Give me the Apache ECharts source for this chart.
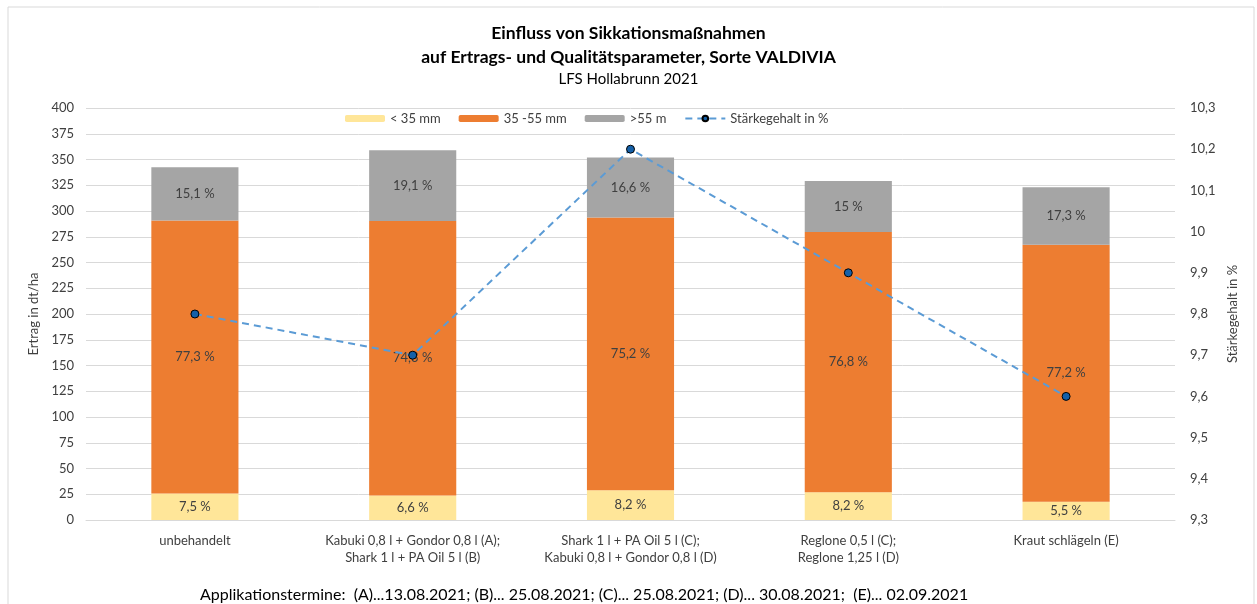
<!DOCTYPE html>
<html>
<head>
<meta charset="utf-8">
<script src="https://cdn.jsdelivr.net/npm/echarts@6/dist/echarts.min.js"></script>
<style>
  html, body { margin: 0; padding: 0; background: #fff; }
  #chart { width: 1257px; height: 604px; }
</style>
</head>
<body>
<div id="chart"></div>
<script>
// categories (treatments)
const categories = [
  'unbehandelt',
  'Kabuki 0,8 l + Gondor 0,8 l (A);\nShark 1 l + PA Oil 5 l (B)',
  'Shark 1 l + PA Oil 5 l (C);\nKabuki 0,8 l + Gondor 0,8 l (D)',
  'Reglone 0,5 l (C);\nReglone 1,25 l (D)',
  'Kraut schlägeln (E)'
]

// yield in dt/ha per size class
const small = [25.7, 23.7, 28.9, 27.0, 17.8]
const medium = [265.0, 266.7, 264.7, 252.7, 249.4]
const large = [51.8, 68.6, 58.4, 49.4, 55.9]

// share labels in %
const smallPct = ['7,5 %', '6,6 %', '8,2 %', '8,2 %', '5,5 %']
const mediumPct = ['77,3 %', '74,3 %', '75,2 %', '76,8 %', '77,2 %']
const largePct = ['15,1 %', '19,1 %', '16,6 %', '15 %', '17,3 %']

// starch content in %
const starch = [9.8, 9.7, 10.2, 9.9, 9.6]

const font = 'Lato, "Open Sans", sans-serif'
const txt = '#404040'

const chart = echarts.init(document.getElementById('chart'))

const barLabel = (labels) => ({
  show: true,
  position: 'inside',
  color: txt,
  fontSize: 13,
  fontFamily: font,
  formatter: (p) => labels[p.dataIndex],
})

chart.setOption({
  textStyle: { fontFamily: font },
  animation: false,
  title: [
    {
      text: 'Einfluss von Sikkationsmaßnahmen\nauf Ertrags- und Qualitätsparameter, Sorte VALDIVIA',
      left: 'center',
      top: 16,
      textStyle: { fontSize: 17.5, fontWeight: 'bold', color: '#000', lineHeight: 24, fontFamily: font },
    },
    {
      text: 'LFS Hollabrunn 2021',
      left: 'center',
      top: 67,
      textStyle: { fontSize: 15, fontWeight: 'normal', color: '#000', fontFamily: font },
    },
  ],
  legend: {
    top: 107,
    left: 340,
    itemWidth: 40,
    itemHeight: 7,
    itemGap: 18,
    textStyle: { color: txt, fontSize: 13, fontFamily: font },
    data: ['< 35 mm', '35 -55 mm', '>55 m', 'Stärkegehalt in %'],
  },
  grid: { left: 86, right: 82, top: 108, bottom: 84 },
  xAxis: {
    type: 'category',
    data: categories,
    axisTick: { show: false },
    axisLine: { lineStyle: { color: '#d9d9d9' } },
    axisLabel: { color: txt, fontSize: 13, interval: 0, lineHeight: 17, margin: 12, fontFamily: font },
  },
  yAxis: [
    {
      type: 'value',
      min: 0,
      max: 400,
      interval: 25,
      name: 'Ertrag in dt/ha',
      nameLocation: 'middle',
      nameGap: 44,
      nameTextStyle: { color: txt, fontSize: 13, fontFamily: font },
      axisLabel: { color: txt, fontSize: 13, margin: 12, fontFamily: font },
      splitLine: { lineStyle: { color: '#d9d9d9', width: 1 } },
    },
    {
      type: 'value',
      min: 9.3,
      max: 10.3,
      interval: 0.1,
      name: 'Stärkegehalt in %',
      nameLocation: 'middle',
      nameGap: 48,
      nameTextStyle: { color: txt, fontSize: 13, fontFamily: font },
      axisLabel: {
        color: txt,
        fontSize: 13,
        margin: 15,
        fontFamily: font,
        formatter: (v) => String(Math.round(v * 10) / 10).replace('.', ','),
      },
      splitLine: { show: false },
    },
  ],
  series: [
    {
      name: '< 35 mm',
      type: 'bar',
      stack: 'yield',
      data: small,
      barWidth: '40%',
      itemStyle: { color: '#FFE699' },
      label: barLabel(smallPct),
    },
    {
      name: '35 -55 mm',
      type: 'bar',
      stack: 'yield',
      data: medium,
      itemStyle: { color: '#ED7D31' },
      label: barLabel(mediumPct),
    },
    {
      name: '>55 m',
      type: 'bar',
      stack: 'yield',
      data: large,
      itemStyle: { color: '#A5A5A5' },
      label: barLabel(largePct),
    },
    {
      name: 'Stärkegehalt in %',
      type: 'line',
      yAxisIndex: 1,
      data: starch,
      z: 5,
      symbol: 'circle',
      symbolSize: 8,
      lineStyle: { color: '#5B9BD5', width: 2, type: [7, 5] },
      itemStyle: { color: '#1560A8', borderColor: '#000', borderWidth: 1 },
    },
  ],
  graphic: [
    {
      type: 'rect',
      shape: { x: 8, y: 7, width: 1246, height: 610 },
      style: { fill: 'none', stroke: '#d9d9d9', lineWidth: 1 },
      silent: true,
    },
    {
      type: 'text',
      left: 200,
      top: 587,
      style: {
        text: 'Applikationstermine:  (A)...13.08.2021; (B)... 25.08.2021; (C)... 25.08.2021; (D)... 30.08.2021;  (E)... 02.09.2021',
        fontSize: 16,
        fill: '#000',
        fontFamily: font,
      },
    },
  ],
})
</script>
</body>
</html>
